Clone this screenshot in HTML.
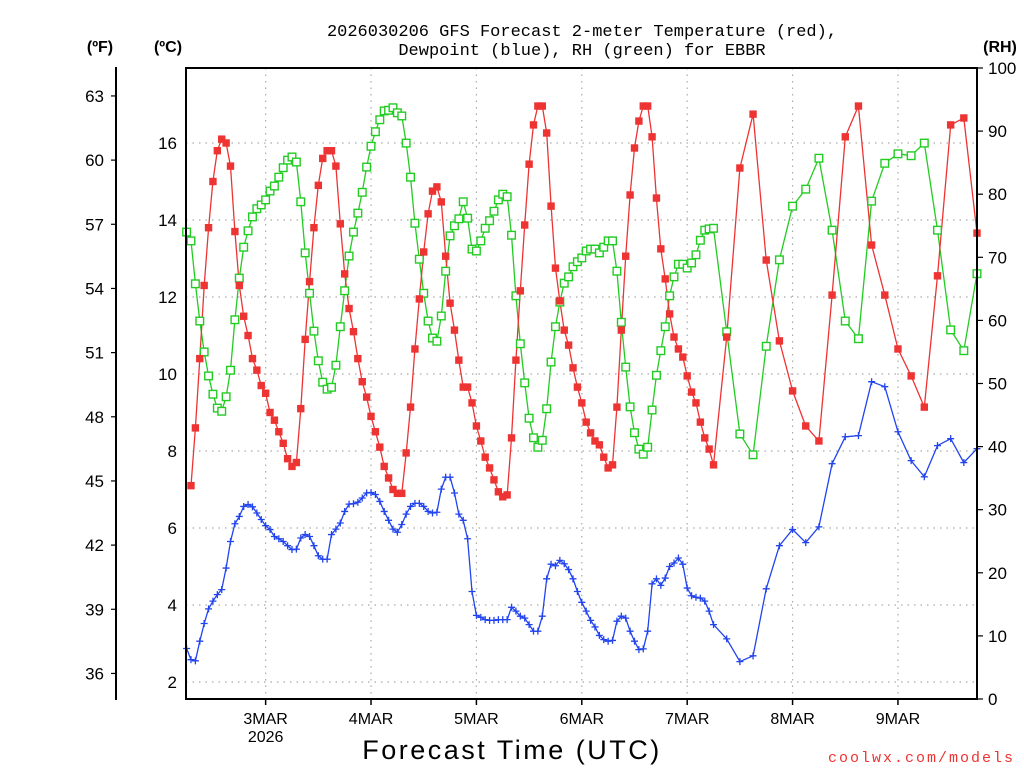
<!DOCTYPE html>
<html><head><meta charset="utf-8"><style>
html,body{margin:0;padding:0;background:#fff;}
svg{display:block;font-family:"Liberation Sans",sans-serif;}
</style></head><body>
<svg id="chart" width="1024" height="768" viewBox="0 0 1024 768">
<g id="grid"></g>
<g id="series"></g>
<rect x="186" y="68" width="791" height="631" fill="none" stroke="#000" stroke-width="2"/>
<line x1="116" y1="67" x2="116" y2="700" stroke="#000" stroke-width="2"/>
<g id="axes"></g>
<text x="582" y="36" text-anchor="middle" font-size="17" font-family="Liberation Mono, monospace">2026030206 GFS Forecast 2-meter Temperature (red),</text>
<text x="582" y="55" text-anchor="middle" font-size="17" font-family="Liberation Mono, monospace">Dewpoint (blue), RH (green) for EBBR</text>
<text x="100" y="52" text-anchor="middle" font-size="16" font-weight="bold">(ºF)</text>
<text x="168" y="52" text-anchor="middle" font-size="16" font-weight="bold">(ºC)</text>
<text x="1000" y="52" text-anchor="middle" font-size="16" font-weight="bold">(RH)</text>
<text x="512" y="759" text-anchor="middle" font-size="27" letter-spacing="2.5">Forecast Time (UTC)</text>
<text x="1015" y="762" text-anchor="end" font-size="15" font-family="Liberation Mono, monospace" fill="#ee3333" letter-spacing="2">coolwx.com/models</text>
</svg>
<script>
// ---- data ----
const tempC = [null,
7.1,8.6,10.4,12.3,13.8,15.0,15.8,16.1,16.0,15.4,13.7,12.3,11.5,11.0,10.4,10.1,9.7,9.5,9.0,8.8,8.5,8.2,7.8,7.6,7.7,9.1,10.9,12.4,13.8,14.9,15.6,15.8,15.8,15.4,13.9,12.6,11.7,11.1,10.4,9.8,9.4,8.9,8.5,8.1,7.6,7.3,7.0,
6.9,6.9,
7.95,9.14,10.65,11.95,13.17,14.16,14.75,14.86,14.47,13.06,11.84,11.14,10.36,9.66,9.66,9.25,8.65,8.26,7.84,7.56,7.25,6.94,6.81,6.86,8.34,10.36,12.16,13.87,15.45,16.47,16.96,16.96,16.26,14.36,12.75,11.9,11.14,10.75,10.16,9.66,9.25,8.75,8.47,8.26,8.16,7.84,7.56,
7.64,9.14,11.14,13.06,14.65,15.87,16.57,16.96,16.96,16.16,14.57,13.25,12.47,11.56,10.96,10.65,10.44,9.95,9.53,9.25,8.75,8.34,8.05,7.64,
10.96,15.35,16.75,12.96,10.86,9.56,8.65,8.26,12.05,16.16,16.96,13.35,12.05,10.65,9.95,9.14,12.55,16.47,16.65,13.66];
const dewpointC = [
2.87,2.58,2.55,3.06,3.52,3.90,4.10,4.27,4.40,4.96,5.65,6.11,6.30,6.56,6.61,6.55,6.39,6.22,6.06,5.96,5.78,5.72,5.65,5.54,5.44,5.45,5.74,5.83,5.78,5.54,5.28,5.19,5.19,5.83,5.97,6.13,6.43,6.62,
6.63,6.67,6.78,6.91,6.92,6.87,6.69,6.43,6.20,5.97,5.89,6.09,6.36,6.56,6.64,6.64,6.56,6.43,6.39,6.41,
7.01,7.32,7.32,6.91,6.36,6.20,5.72,4.35,3.73,3.68,3.62,3.60,3.60,3.62,3.62,3.62,3.94,3.84,3.71,3.66,3.49,3.32,3.32,3.71,4.68,5.06,5.02,5.16,5.07,4.92,4.68,4.35,4.07,3.84,3.60,3.43,3.21,3.10,3.06,3.08,3.58,3.71,3.66,3.32,3.06,2.84,2.86,3.32,4.55,4.68,4.51,4.70,5.00,5.09,5.22,5.06,4.44,4.24,4.20,4.18,4.10,3.84,3.49,
3.12,2.53,2.68,4.42,5.54,5.96,5.62,6.03,7.67,8.37,8.40,9.80,9.67,8.50,7.75,7.33,8.14,8.32,7.70,8.06];
const relHum = [
74.0,72.6,65.8,59.9,55.0,51.2,48.3,46.1,45.6,47.9,52.1,60.1,66.7,71.6,74.2,76.4,77.7,78.3,79.1,80.5,81.3,82.7,84.2,85.4,85.9,85.1,78.8,70.7,64.3,58.3,53.6,50.2,49.1,49.4,52.9,59.0,64.7,70.2,74.0,77.0,80.3,84.3,87.6,89.9,91.8,93.2,93.3,93.7,
92.9,
92.4,88.1,82.7,75.4,69.7,64.3,59.9,57.2,56.7,60.7,67.8,73.4,75.0,76.1,78.8,76.2,71.3,71.0,72.6,74.6,75.8,77.3,79.1,80.0,79.6,73.5,63.9,56.3,50.1,44.5,41.4,39.9,41.0,46.0,53.4,59.0,62.9,65.9,66.9,68.5,69.3,69.9,71.0,71.3,71.3,70.7,71.6,72.6,
72.6,67.8,59.7,52.6,46.3,42.2,39.6,38.8,39.9,45.8,51.3,55.2,59.0,63.9,66.9,68.9,68.9,68.3,69.1,70.4,72.7,74.3,74.5,74.6,
58.2,42.0,38.7,55.9,69.6,78.1,80.8,85.7,74.3,59.9,57.1,78.9,84.9,86.4,86.1,88.1,74.3,58.5,55.2,67.4];
const dayLabels = ["3MAR","4MAR","5MAR","6MAR","7MAR","8MAR","9MAR"];
const dayHours = [18,42,66,90,114,138,162];
const celsiusTicks = [2,4,6,8,10,12,14,16];
const fahrenheitTicks = [36,39,42,45,48,51,54,57,60,63];
const rhTicks = [0,10,20,30,40,50,60,70,80,90,100];

// forecast hours: hourly to 120, then every 3 h to 180
const hours = [];
for (let h = 0; h <= 120; h++) hours.push(h);
for (let h = 123; h <= 180; h += 3) hours.push(h);

// ---- scales ----
const X0 = 186.6, X1 = 977;
function xs(h){ return X0 + h * (X1 - X0) / 180; }
function yc(t){ return 143 + (16 - t) * 38.5; }
function yf(f){ return yc((f - 32) / 1.8); }
function yr(r){ return 699 - r * 6.31; }

const NS = "http://www.w3.org/2000/svg";
function mk(tag, attrs, parent){
  const e = document.createElementNS(NS, tag);
  for (const k in attrs) e.setAttribute(k, attrs[k]);
  parent.appendChild(e);
  return e;
}
const grid = document.getElementById('grid');
const axes = document.getElementById('axes');
const series = document.getElementById('series');

celsiusTicks.forEach(t => {
  const l = mk('line', {x1:186, x2:977, y1:yc(t), y2:yc(t), stroke:'#aaa', 'stroke-width':1.2, 'stroke-dasharray':'1.5 5'}, grid);
  
  
  const tx = mk('text', {x:177, y:yc(t)+6, 'text-anchor':'end', 'font-size':17}, axes);
  tx.textContent = t;
  
  
});
dayHours.forEach((h, i) => {
  const l = mk('line', {x1:xs(h), x2:xs(h), y1:68, y2:699, stroke:'#aaa', 'stroke-width':1.2, 'stroke-dasharray':'1.5 5'}, grid);
  
  
  const tk = mk('line', {x1:xs(h), x2:xs(h), y1:699, y2:705, stroke:'#000', 'stroke-width':1.5}, axes);
  
  
  const tx = mk('text', {x:xs(h), y:724, 'text-anchor':'middle', 'font-size':16}, axes);
  tx.textContent = dayLabels[i];
  
  
});
const yr2026 = mk('text', {x:xs(dayHours[0]), y:742, 'text-anchor':'middle', 'font-size':16}, axes);
yr2026.textContent = '2026';



fahrenheitTicks.forEach(f => {
  const tk = mk('line', {x1:111, x2:116, y1:yf(f), y2:yf(f), stroke:'#000', 'stroke-width':1.2}, axes);
  
  
  const tx = mk('text', {x:104, y:yf(f)+6, 'text-anchor':'end', 'font-size':17}, axes);
  tx.textContent = f;
  
  
});
rhTicks.forEach(r => {
  const tk = mk('line', {x1:977, x2:983, y1:yr(r), y2:yr(r), stroke:'#000', 'stroke-width':1.2}, axes);
  
  
  const tx = mk('text', {x:988, y:yr(r)+6, 'text-anchor':'start', 'font-size':17}, axes);
  tx.textContent = r;
  
  
});

function drawLine(vals, yfn, color, name){
  let d = '';
  let pen = false;
  vals.forEach((v, i) => {
    if (v === null) { pen = false; return; }
    d += (pen ? 'L' : 'M') + xs(hours[i]).toFixed(1) + ' ' + yfn(v).toFixed(1);
    pen = true;
  });
  const p = mk('path', {d:d, fill:'none', stroke:color, 'stroke-width':1.3}, series);
  
  
}
drawLine(relHum, yr, '#22cc22', 'rh-line');
drawLine(tempC, yc, '#ee3333', 'temperature-line');
drawLine(dewpointC, yc, '#2244ee', 'dewpoint-line');

relHum.forEach((v, i) => {
  if (v === null) return;
  const m = mk('rect', {x:xs(hours[i])-3.8, y:yr(v)-3.8, width:7.6, height:7.6, fill:'#fff', stroke:'#22cc22', 'stroke-width':1.4}, series);
  
  
});
tempC.forEach((v, i) => {
  if (v === null) return;
  const m = mk('rect', {x:xs(hours[i])-3.7, y:yc(v)-3.7, width:7.4, height:7.4, fill:'#ee3333'}, series);
  
  
});
dewpointC.forEach((v, i) => {
  if (v === null) return;
  const cx = xs(hours[i]), cy = yc(v);
  const m = mk('path', {d:`M${cx-3.5} ${cy}H${cx+3.5}M${cx} ${cy-3.5}V${cy+3.5}`, stroke:'#2244ee', 'stroke-width':1.3, fill:'none'}, series);
  
  
});
</script>
</body></html>
